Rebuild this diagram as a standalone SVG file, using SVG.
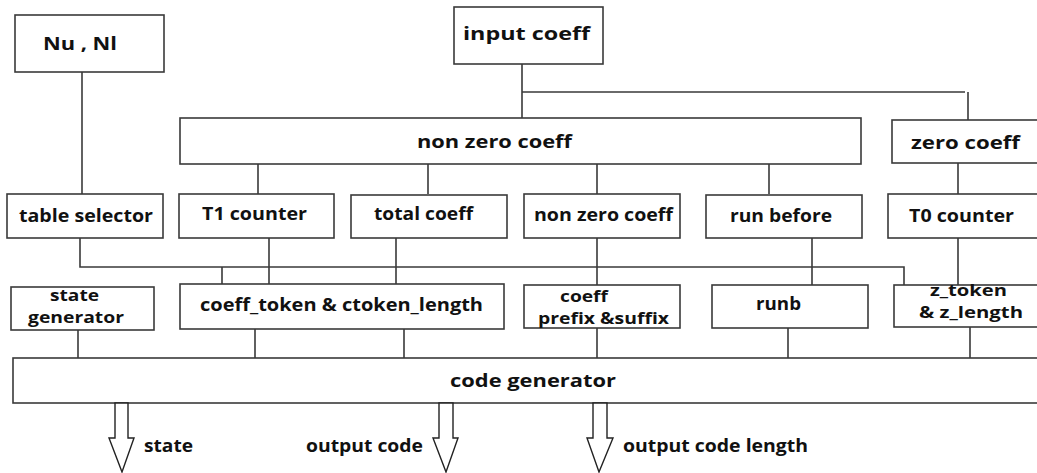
<svg xmlns="http://www.w3.org/2000/svg" width="1037" height="473" viewBox="0 0 1037 473">
<defs>
<style>
.b{fill:#fff;stroke:#3a3a3a;stroke-width:1.6}
.c{fill:none;stroke:#3a3a3a;stroke-width:1.6}
.t{font-family:"Open Sans","DejaVu Sans",sans-serif;font-weight:bold;font-size:17.5px;fill:#111}
.s{font-size:15.5px}
.a{fill:#fff;stroke:#222;stroke-width:1.4;stroke-linejoin:miter}
</style>
</defs>
<rect width="1037" height="473" fill="#fff"/>
<g id="connectors">
<path class="c" d="M82 72V194"/>
<path class="c" d="M522 64V118M522 92H965M968 92V120"/>
<path class="c" d="M258 164V194M428 164V194M597 164V194M769 164V194M958 163V194"/>
<path class="c" d="M80 238V267H904V285M222 267V284M269 238V284M396 238V284M597 238V285M812 238V285M958 238V285"/>
<path class="c" d="M78 330V358M255 329V358M404 329V358M597 328V358M788 328V358M970 327V358"/>
</g>
<g id="nunl"><rect class="b" x="15" y="15" width="149" height="57"/><text class="t" x="43" y="50" textLength="74" lengthAdjust="spacingAndGlyphs">Nu , Nl</text></g>
<g id="input-coeff"><rect class="b" x="454" y="7" width="149" height="57"/><text class="t" x="463" y="40" textLength="127" lengthAdjust="spacingAndGlyphs">input coeff</text></g>
<g id="non-zero-coeff-main"><rect class="b" x="180" y="118" width="681" height="46"/><text class="t" x="417" y="148" textLength="155" lengthAdjust="spacingAndGlyphs">non zero coeff</text></g>
<g id="zero-coeff"><rect class="b" x="892" y="120" width="160" height="43"/><text class="t" x="911" y="149" textLength="109" lengthAdjust="spacingAndGlyphs">zero coeff</text></g>
<g id="table-selector"><rect class="b" x="7" y="194" width="156" height="44"/><text class="t" x="19" y="222" textLength="134" lengthAdjust="spacingAndGlyphs">table selector</text></g>
<g id="t1-counter"><rect class="b" x="179" y="194" width="155" height="44"/><text class="t" x="202" y="220" textLength="105" lengthAdjust="spacingAndGlyphs">T1 counter</text></g>
<g id="total-coeff"><rect class="b" x="351" y="195" width="156" height="43"/><text class="t" x="374" y="220" textLength="99" lengthAdjust="spacingAndGlyphs">total coeff</text></g>
<g id="non-zero-coeff"><rect class="b" x="524" y="194" width="156" height="44"/><text class="t" x="534" y="221" textLength="139" lengthAdjust="spacingAndGlyphs">non zero coeff</text></g>
<g id="run-before"><rect class="b" x="706" y="195" width="156" height="43"/><text class="t" x="730" y="222" textLength="102" lengthAdjust="spacingAndGlyphs">run before</text></g>
<g id="t0-counter"><rect class="b" x="888" y="194" width="160" height="44"/><text class="t" x="909" y="222" textLength="105" lengthAdjust="spacingAndGlyphs">T0 counter</text></g>
<g id="state-generator"><rect class="b" x="11" y="287" width="143" height="43"/><text class="t s" x="50" y="301" textLength="49" lengthAdjust="spacingAndGlyphs">state</text><text class="t s" x="28" y="323" textLength="96" lengthAdjust="spacingAndGlyphs">generator</text></g>
<g id="coeff-token"><rect class="b" x="180" y="284" width="324" height="45"/><text class="t" x="200" y="311" textLength="283" lengthAdjust="spacingAndGlyphs">coeff_token &amp; ctoken_length</text></g>
<g id="coeff-prefix"><rect class="b" x="524" y="285" width="156" height="43"/><text class="t s" x="560" y="302" textLength="48" lengthAdjust="spacingAndGlyphs">coeff</text><text class="t s" x="538" y="324" textLength="131" lengthAdjust="spacingAndGlyphs">prefix &amp;suffix</text></g>
<g id="runb"><rect class="b" x="712" y="285" width="156" height="43"/><text class="t" x="756" y="310" textLength="45" lengthAdjust="spacingAndGlyphs">runb</text></g>
<g id="z-token"><rect class="b" x="894" y="285" width="160" height="42"/><text class="t s" x="930" y="296" textLength="77" lengthAdjust="spacingAndGlyphs">z_token</text><text class="t s" x="919" y="318" textLength="104" lengthAdjust="spacingAndGlyphs">&amp; z_length</text></g>
<g id="code-generator"><rect class="b" x="13" y="358" width="1040" height="45"/><text class="t" x="450" y="387" textLength="166" lengthAdjust="spacingAndGlyphs">code generator</text></g>
<g id="out-state"><path class="a" d="M115 403V438H109L122 472L134 438H128V403Z"/><text class="t" x="144" y="452" textLength="49" lengthAdjust="spacingAndGlyphs">state</text></g>
<g id="out-code"><path class="a" d="M439 403V438H433L446 472L458 438H453V403Z"/><text class="t" x="306" y="452" textLength="117" lengthAdjust="spacingAndGlyphs">output code</text></g>
<g id="out-len"><path class="a" d="M593 403V438H587L599 472L613 438H607V403Z"/><text class="t" x="623" y="452" textLength="185" lengthAdjust="spacingAndGlyphs">output code length</text></g>
</svg>
